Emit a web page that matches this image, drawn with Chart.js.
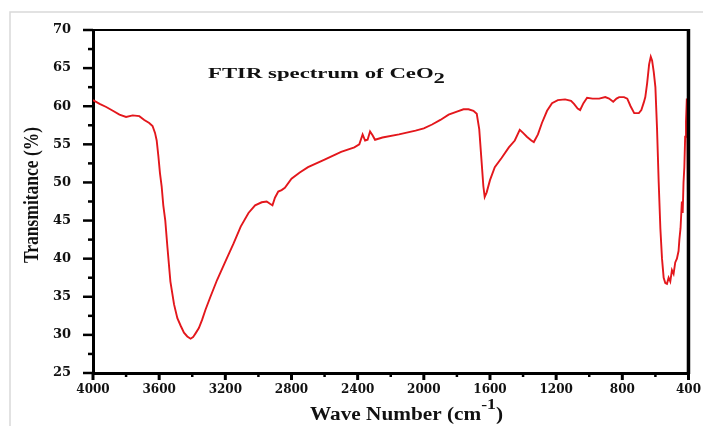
<!DOCTYPE html>
<html>
<head>
<meta charset="utf-8">
<script src="https://cdn.jsdelivr.net/npm/chart.js@4.4.0/dist/chart.umd.min.js"></script>
<style>
  html, body { margin: 0; padding: 0; background: #fff; }
  #wrap { width: 703px; height: 426px; }
</style>
</head>
<body>
<div id="wrap"><canvas id="ftirChart" width="703" height="426"></canvas></div>
<script>
// wave number (cm-1)
const waveNumbers = [
  4000, 3960, 3920, 3880, 3840, 3800, 3760, 3720, 3690, 3660, 3640, 3625, 3615, 3605, 3595, 3585,
  3575, 3563, 3550, 3532, 3510, 3490, 3470, 3450, 3430, 3410, 3395, 3380, 3360, 3340, 3320, 3290,
  3250, 3200, 3150, 3107, 3060, 3020, 2980, 2950, 2930, 2915, 2900, 2880, 2860, 2840, 2800, 2750,
  2700, 2600, 2500, 2420, 2390, 2370, 2355, 2340, 2325, 2310, 2295, 2250, 2150, 2050, 2000, 1950,
  1900, 1850, 1800, 1760, 1730, 1700, 1680, 1665, 1650, 1640, 1632, 1620, 1600, 1571, 1530, 1486,
  1450, 1420, 1400, 1377, 1350, 1335, 1310, 1286, 1255, 1225, 1190, 1146, 1110, 1092, 1070, 1055,
  1035, 1013, 980, 940, 903, 880, 855, 835, 819, 790, 770, 750, 728, 700, 685, 670,
  661, 650, 638, 628, 620, 610, 600, 590, 580, 570, 560, 550, 540, 530, 520, 510,
  500, 490, 480, 470, 460, 455, 448, 440, 435, 430, 425, 420, 415, 410, 406, 403,
  401, 400
];
// transmittance (%)
const transmittance = [
  60.8, 60.3, 59.9, 59.4, 58.9, 58.6, 58.8, 58.7, 58.2, 57.8, 57.4, 56.5, 55.5, 53.5, 51.2, 49.5,
  47.0, 45.0, 41.5, 37.0, 34.0, 32.2, 31.2, 30.3, 29.8, 29.5, 29.7, 30.2, 30.9, 32.0, 33.3, 35.0,
  37.2, 39.6, 42.0, 44.2, 46.0, 47.0, 47.4, 47.5, 47.2, 47.0, 48.0, 48.8, 49.0, 49.3, 50.5, 51.3,
  52.0, 53.0, 54.0, 54.6, 55.0, 56.3, 55.5, 55.6, 56.7, 56.2, 55.6, 55.9, 56.3, 56.8, 57.1, 57.6,
  58.2, 58.9, 59.3, 59.6, 59.6, 59.4, 59.0, 57.0, 52.5, 49.5, 48.1, 48.7, 50.3, 52.0, 53.2, 54.6,
  55.5, 56.9, 56.5, 56.0, 55.5, 55.3, 56.3, 57.8, 59.4, 60.4, 60.8, 60.9, 60.7, 60.3, 59.7, 59.5,
  60.4, 61.1, 61.0, 61.0, 61.2, 61.0, 60.6, 61.0, 61.2, 61.2, 61.0, 60.0, 59.1, 59.1, 59.5, 60.5,
  61.2, 63.0, 65.5, 66.5, 66.0, 64.5, 62.5, 57.0, 50.0, 44.0, 40.0, 37.5, 36.8, 36.7, 37.5, 37.0,
  38.5, 38.0, 39.5, 40.0, 41.0, 42.5, 44.0, 47.5, 46.0, 50.0, 52.0, 56.0, 58.0, 61.0, 55.0, 48.0,
  40.0, 36.0
];
const xTicks = [4000, 3600, 3200, 2800, 2400, 2000, 1600, 1200, 800, 400];
const yTicks = [25, 30, 35, 40, 45, 50, 55, 60, 65, 70];

const serif = '"Liberation Serif", "Times New Roman", serif';
const tickFont = '"DejaVu Serif", serif';

const points = waveNumbers.map((w, i) => ({ x: w, y: transmittance[i] }));

// draws pieces of text one after another, stretched to a given total width
// parts: [text, fontSize, baselineShift]
function drawRun(ctx, parts, x, y, width) {
  let natural = 0;
  parts.forEach(p => {
    ctx.font = 'bold ' + p[1] + 'px ' + serif;
    natural += ctx.measureText(p[0]).width;
  });
  const k = width / natural;
  ctx.save();
  ctx.translate(x, y);
  ctx.scale(k, 1);
  let cx = 0;
  parts.forEach(p => {
    ctx.font = 'bold ' + p[1] + 'px ' + serif;
    ctx.fillText(p[0], cx, p[2]);
    cx += ctx.measureText(p[0]).width;
  });
  ctx.restore();
}

// frame, axis ticks, titles
const decorations = {
  id: 'decorations',
  beforeDraw(chart) {
    const ctx = chart.ctx;
    ctx.save();
    ctx.strokeStyle = '#d9d9d9';
    ctx.lineWidth = 1.5;
    ctx.beginPath();
    ctx.moveTo(10, 426);
    ctx.lineTo(10, 12);
    ctx.lineTo(703, 12);
    ctx.stroke();
    ctx.restore();
  },
  afterDraw(chart) {
    const ctx = chart.ctx;
    const a = chart.chartArea;
    const xs = chart.scales.x, ys = chart.scales.y;
    ctx.save();
    ctx.strokeStyle = '#000';
    // top and right border
    ctx.lineWidth = 2;
    ctx.beginPath();
    ctx.moveTo(a.left, a.top);
    ctx.lineTo(a.right, a.top);
    ctx.stroke();
    ctx.lineWidth = 3.5;
    ctx.beginPath();
    ctx.moveTo(a.right, a.top - 1);
    ctx.lineTo(a.right, a.bottom + 1);
    ctx.stroke();
    // x ticks
    for (let v = 400; v <= 4000; v += 200) {
      const px = xs.getPixelForValue(v);
      const major = v % 400 === 0;
      ctx.lineWidth = major ? 3 : 2.5;
      ctx.beginPath();
      ctx.moveTo(px, a.bottom);
      ctx.lineTo(px, a.bottom + (major ? 7 : 4));
      ctx.stroke();
    }
    // y ticks
    ctx.lineWidth = 2.5;
    for (let v = 25; v <= 70; v += 2.5) {
      const py = ys.getPixelForValue(v);
      const len = v % 5 === 0 ? 10 : 5;
      ctx.beginPath();
      ctx.moveTo(a.left, py);
      ctx.lineTo(a.left - len, py);
      ctx.stroke();
    }
    ctx.fillStyle = '#111';
    ctx.textBaseline = 'alphabetic';
    ctx.textAlign = 'left';
    // chart title with subscript
    drawRun(ctx, [['FTIR spectrum of CeO', 15, 0], ['2', 15, 5]], 208, 78, 237);
    // x title with superscript
    drawRun(ctx, [['Wave Number (cm', 18, 0], ['-1', 15, -11], [')', 18, 0]], 310, 420, 193);
    // y title
    ctx.translate(38, 195);
    ctx.rotate(-Math.PI / 2);
    drawRun(ctx, [['Transmitance (%)', 20, 0]], -68, 0, 136);
    ctx.restore();
  }
};

new Chart(document.getElementById('ftirChart').getContext('2d'), {
  type: 'scatter',
  data: {
    datasets: [{
      label: 'CeO2',
      data: points,
      showLine: true,
      borderColor: '#e3171c',
      borderWidth: 1.9,
      pointRadius: 0,
      tension: 0
    }]
  },
  options: {
    responsive: false,
    animation: false,
    layout: { padding: { left: 0, right: 12, top: 30, bottom: 0 } },
    plugins: {
      legend: { display: false },
      tooltip: { enabled: false },
      title: { display: false }
    },
    scales: {
      x: {
        type: 'linear',
        reverse: true,
        min: 400,
        max: 4000,
        afterFit: s => { s.height = 53; },
        afterBuildTicks: s => { s.ticks = xTicks.map(v => ({ value: v })); },
        grid: { display: false },
        border: { display: true, color: '#000', width: 3 },
        ticks: {
          color: '#111',
          padding: 2,
          maxRotation: 0,
          callback: v => String(v),
          font: { family: tickFont, weight: 'bold', size: 12 }
        }
      },
      y: {
        min: 25,
        max: 70,
        afterFit: s => { s.width = 93; },
        afterBuildTicks: s => { s.ticks = yTicks.map(v => ({ value: v })); },
        grid: { display: false },
        border: { display: true, color: '#000', width: 3 },
        ticks: {
          color: '#111',
          padding: 14,
          callback: v => String(v),
          font: { family: tickFont, weight: 'bold', size: 13 }
        }
      }
    }
  },
  plugins: [decorations]
});
</script>
</body>
</html>
